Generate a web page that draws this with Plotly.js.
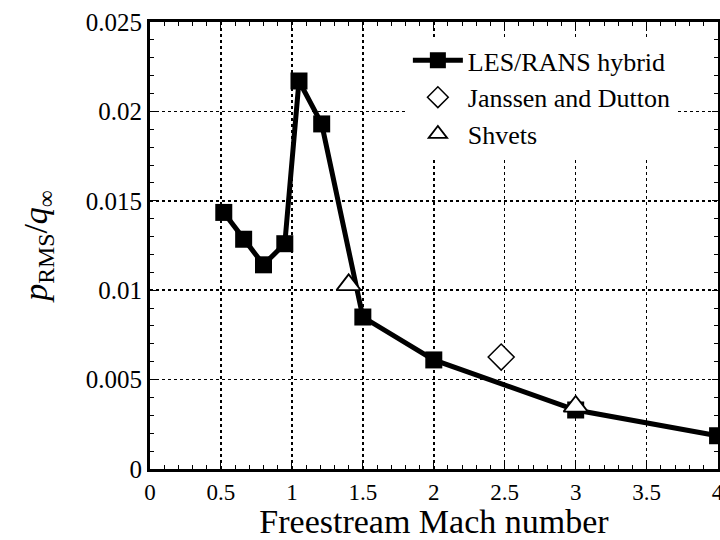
<!DOCTYPE html>
<html>
<head>
<meta charset="utf-8">
<script src="https://cdn.plot.ly/plotly-3.0.1.min.js"></script>
<style>html,body{margin:0;padding:0;background:#fff;}#chart{width:720px;height:540px;}</style>
</head>
<body>
<div id="chart"></div>
<script>
// LES/RANS hybrid
const lesMach = [0.52, 0.66, 0.80, 0.95, 1.05, 1.21, 1.5, 2.0, 3.0, 4.0];
const lesP = [0.01435, 0.01285, 0.01142, 0.0126, 0.0217, 0.0193, 0.0085, 0.0061, 0.0033, 0.00186];
// Janssen and Dutton
const jdMach = [2.475];
const jdP = [0.00626];
// Shvets
const shMach = [1.4, 3.0];
const shP = [0.0103, 0.0035];
// Tick labels
const xTickVals = [0, 0.5, 1, 1.5, 2, 2.5, 3, 3.5, 4];
const xTickText = ['0', '0.5', '1', '1.5', '2', '2.5', '3', '3.5', '4'];
const yTickVals = [0, 0.005, 0.01, 0.015, 0.02, 0.025];
const yTickText = ['0', '0.005', '0.01', '0.015', '0.02', '0.025'];

const font = 'Liberation Serif';

const traces = [
  {x: lesMach, y: lesP, name: 'LES/RANS hybrid', mode: 'lines+markers',
   line: {color: '#000', width: 5},
   marker: {symbol: 'square', size: 17, color: '#000'}},
  {x: jdMach, y: jdP, name: 'Janssen and Dutton', mode: 'markers',
   marker: {symbol: 'diamond', size: 20, color: '#fff', line: {color: '#000', width: 1.5}}},
  {x: shMach, y: shP, name: 'Shvets', mode: 'markers',
   marker: {symbol: 'triangle-up', size: 21, color: '#fff', line: {color: '#000', width: 1.8}}}
];

const axisCommon = {
  showline: true, linecolor: '#000', linewidth: 3, mirror: 'allticks',
  ticks: 'inside', ticklen: 6, tickwidth: 1, tickcolor: '#000',
  showgrid: true, gridcolor: '#000', gridwidth: 1.5, griddash: 'dot',
  zeroline: false,
  tickmode: 'array', ticklabeloverflow: 'allow'
};

const layout = {
  width: 720, height: 540,
  font: {family: font, color: '#000'},
  margin: {l: 150, r: 2, t: 22, b: 71},
  paper_bgcolor: '#fff', plot_bgcolor: '#fff',
  showlegend: true,
  legend: {x: 0.454, y: 0.9665, xanchor: 'left', yanchor: 'top',
    bgcolor: '#fff', borderwidth: 0, itemwidth: 50,
    font: {family: font, size: 26, color: '#000'}},
  xaxis: Object.assign({}, axisCommon, {
    range: [0, 4.003], tickvals: xTickVals, ticktext: xTickText,
    tickfont: {family: font, size: 23, color: '#000'},
    minor: {dtick: 0.1, tick0: 0, ticks: 'inside', ticklen: 4, tickcolor: '#000', showgrid: false},
    title: {text: 'Freestream Mach number', font: {family: font, size: 34, color: '#000'}, standoff: 24}
  }),
  yaxis: Object.assign({}, axisCommon, {
    range: [0, 0.025], tickvals: yTickVals, ticktext: yTickText,
    tickfont: {family: font, size: 25, color: '#000'},
    minor: {dtick: 0.001, tick0: 0, ticks: 'inside', ticklen: 4, tickcolor: '#000', showgrid: false},
    title: {text: '<i>p</i><sub>RMS</sub>/<i>q</i><sub>∞</sub>', font: {family: font, size: 34, color: '#000'}, standoff: 28}
  })
};

Plotly.newPlot('chart', traces, layout, {displayModeBar: false, staticPlot: true});
</script>
</body>
</html>
